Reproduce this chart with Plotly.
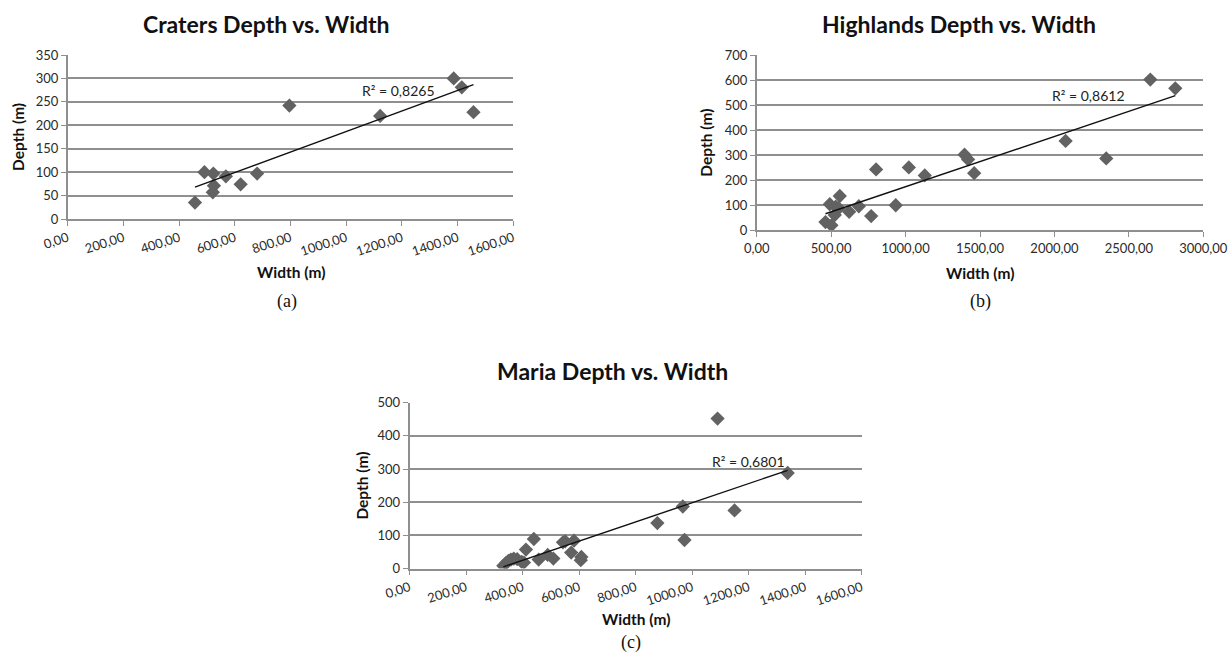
import numpy as np
import plotly.graph_objects as go

# ---------------- data ----------------
craters_width = [457, 491, 523, 525, 521, 568, 621, 680, 796, 1122, 1386, 1415, 1457]
craters_depth = [35, 100, 97, 71, 57, 91, 74, 97, 242, 220, 300, 281, 228]

highlands_width = [462, 502, 491, 524, 531, 558, 551, 621, 686, 769, 802, 934,
                   1022, 1129, 1396, 1420, 1461, 2075, 2348, 2644, 2812]
highlands_depth = [33, 20, 104, 61, 94, 137, 88, 74, 96, 57, 243, 100,
                   251, 219, 302, 283, 228, 357, 287, 602, 567]

maria_width = [332, 341, 350, 359, 369, 381, 397, 405, 412, 440, 457, 489, 509,
               543, 551, 572, 582, 606, 608, 877, 967, 973, 1090, 1150, 1338]
maria_depth = [8, 16, 23, 27, 30, 28, 20, 18, 57, 89, 27, 41, 30,
               79, 82, 48, 84, 25, 35, 137, 187, 86, 452, 175, 288]

titles = ["Craters Depth vs. Width", "Highlands Depth vs. Width", "Maria Depth vs. Width"]
captions = ["(a)", "(b)", "(c)"]
r2_labels = ["R² = 0,8265", "R² = 0,8612", "R² = 0,6801"]

x_ticks_ac = [0, 200, 400, 600, 800, 1000, 1200, 1400, 1600]
x_ticktext_ac = ["0,00", "200,00", "400,00", "600,00", "800,00", "1000,00", "1200,00", "1400,00", "1600,00"]
x_ticks_b = [0, 500, 1000, 1500, 2000, 2500, 3000]
x_ticktext_b = ["0,00", "500,00", "1000,00", "1500,00", "2000,00", "2500,00", "3000,00"]

y_ticks_a = [0, 50, 100, 150, 200, 250, 300, 350]
y_ticks_b = [0, 100, 200, 300, 400, 500, 600, 700]
y_ticks_c = [0, 100, 200, 300, 400, 500]

# ---------------- figure ----------------
W, H = 1232, 656
FONT = "Lato"
GRID = "#8f8f8f"
MARK = "#626262"

fig = go.Figure()

panels = [
    dict(x=craters_width, y=craters_depth, xd=(67.7, 513.3), yd=(55, 219),
         xt=x_ticks_ac, xtt=x_ticktext_ac, yt=y_ticks_a, xr=[0, 1600], yr=[0, 350],
         angle=-18, title_xy=(266, 24), ytitle_x=18, xtitle_y=272, cap_xy=(287, 301),
         r2_xy=(1050, 275)),
    dict(x=highlands_width, y=highlands_depth, xd=(756.7, 1203.3), yd=(55, 230.3),
         xt=x_ticks_b, xtt=x_ticktext_b, yt=y_ticks_b, xr=[0, 3000], yr=[0, 700],
         angle=0, title_xy=(959, 24), ytitle_x=706, xtitle_y=273, cap_xy=(980, 301),
         r2_xy=(1970, 540)),
    dict(x=maria_width, y=maria_depth, xd=(409.5, 861.7), yd=(402.7, 568.5),
         xt=x_ticks_ac, xtt=x_ticktext_ac, yt=y_ticks_c, xr=[0, 1600], yr=[0, 500],
         angle=-18, title_xy=(612, 371), ytitle_x=362, xtitle_y=619, cap_xy=(631, 642),
         r2_xy=(1064, 324)),
]

annotations = []
for i, p in enumerate(panels):
    n = "" if i == 0 else str(i + 1)
    xa, ya = "x" + n, "y" + n
    # scatter points
    fig.add_trace(go.Scatter(
        x=p["x"], y=p["y"], mode="markers", xaxis=xa, yaxis=ya,
        marker=dict(symbol="diamond", size=11, color=MARK, line=dict(width=0)),
        showlegend=False, hoverinfo="x+y"))
    # linear trend line over the data range
    xs = np.array(p["x"], dtype=float)
    ys = np.array(p["y"], dtype=float)
    k, b = np.polyfit(xs, ys, 1)
    lx = np.array([xs.min(), xs.max()])
    fig.add_trace(go.Scatter(
        x=lx, y=k * lx + b, mode="lines", xaxis=xa, yaxis=ya,
        line=dict(color="#111111", width=1.4), showlegend=False, hoverinfo="skip"))

    xdom = [p["xd"][0] / W, p["xd"][1] / W]
    ydom = [1 - p["yd"][1] / H, 1 - p["yd"][0] / H]
    fig.layout["xaxis" + n] = dict(
        domain=xdom, range=p["xr"], anchor=ya, tickvals=p["xt"], ticktext=p["xtt"],
        tickangle=p["angle"], showgrid=False, zeroline=False, showline=True,
        linecolor=GRID, linewidth=1.5, ticks="outside", ticklen=5, tickcolor=GRID,
        tickwidth=1.2, tickfont=dict(family=FONT, size=13, color="#2a2a2a"),
        automargin=False, fixedrange=True)
    fig.layout["yaxis" + n] = dict(
        domain=ydom, range=p["yr"], anchor=xa, tickvals=p["yt"],
        ticktext=[str(v) for v in p["yt"]], showgrid=True, gridcolor=GRID,
        gridwidth=1.5, zeroline=False, showline=True, linecolor=GRID, linewidth=1.5,
        ticks="outside", ticklen=5, tickcolor=GRID, tickwidth=1.2,
        tickfont=dict(family=FONT, size=13, color="#2a2a2a"),
        automargin=False, fixedrange=True)

    # chart title
    annotations.append(dict(
        text="<b>" + titles[i] + "</b>", x=p["title_xy"][0] / W, y=1 - p["title_xy"][1] / H,
        xref="paper", yref="paper", xanchor="center", yanchor="middle", showarrow=False,
        font=dict(family=FONT, size=23, color="#111111")))
    # y axis title
    annotations.append(dict(
        text="<b>Depth (m)</b>", x=p["ytitle_x"] / W,
        y=1 - (p["yd"][0] + p["yd"][1]) / 2 / H, xref="paper", yref="paper",
        xanchor="center", yanchor="middle", textangle=-90, showarrow=False,
        font=dict(family=FONT, size=15.5, color="#111111")))
    # x axis title
    annotations.append(dict(
        text="<b>Width (m)</b>", x=(p["xd"][0] + p["xd"][1]) / 2 / W,
        y=1 - p["xtitle_y"] / H, xref="paper", yref="paper",
        xanchor="center", yanchor="middle", showarrow=False,
        font=dict(family=FONT, size=15.5, color="#111111")))
    # caption
    annotations.append(dict(
        text=captions[i], x=p["cap_xy"][0] / W, y=1 - p["cap_xy"][1] / H,
        xref="paper", yref="paper", xanchor="center", yanchor="middle", showarrow=False,
        font=dict(family="Liberation Serif", size=18, color="#111111")))
    # R² label
    annotations.append(dict(
        text=r2_labels[i], x=p["r2_xy"][0], y=p["r2_xy"][1], xref=xa, yref=ya,
        xanchor="left", yanchor="middle", showarrow=False,
        font=dict(family=FONT, size=14, color="#222222")))

fig.update_layout(
    width=W, height=H, margin=dict(l=0, r=0, t=0, b=0, autoexpand=False),
    paper_bgcolor="white", plot_bgcolor="white",
    annotations=annotations, showlegend=False,
    font=dict(family=FONT),
)

fig.write_html("out.html", config={"displayModeBar": False})
